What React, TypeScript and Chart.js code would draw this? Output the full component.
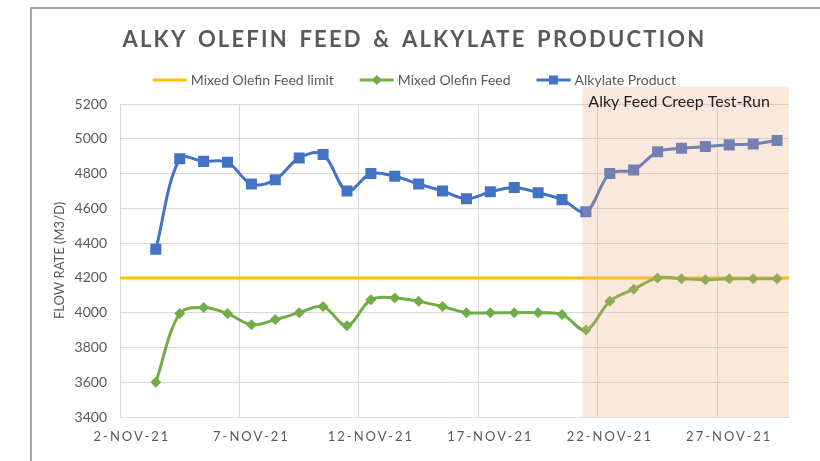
import React, { useEffect, useRef } from 'react';
import { Chart, registerables } from 'chart.js';

Chart.register(...registerables);

// ---------- data ----------
const categories = [
  '2-NOV-21', '3-NOV-21', '4-NOV-21', '5-NOV-21', '6-NOV-21', '7-NOV-21', '8-NOV-21',
  '9-NOV-21', '10-NOV-21', '11-NOV-21', '12-NOV-21', '13-NOV-21', '14-NOV-21', '15-NOV-21',
  '16-NOV-21', '17-NOV-21', '18-NOV-21', '19-NOV-21', '20-NOV-21', '21-NOV-21', '22-NOV-21',
  '23-NOV-21', '24-NOV-21', '25-NOV-21', '26-NOV-21', '27-NOV-21', '28-NOV-21', '29-NOV-21',
];
const mixedOlefinFeedLimit = 4200;
const mixedOlefinFeed = [
  null, 3600, 3995, 4030, 3995, 3930, 3960, 4000, 4035, 3925, 4075, 4085, 4065, 4035,
  4000, 4000, 4000, 4000, 3990, 3900, 4065, 4135, 4200, 4195, 4190, 4195, 4195, 4195,
];
const alkylateProduct = [
  null, 4365, 4885, 4870, 4865, 4740, 4765, 4890, 4910, 4700, 4800, 4785, 4740, 4700,
  4655, 4695, 4720, 4690, 4650, 4580, 4800, 4820, 4925, 4945, 4955, 4965, 4970, 4990,
];
const seriesNames = ['Mixed Olefin Feed limit', 'Mixed Olefin Feed', 'Alkylate Product'];
const yMin = 3400;
const yMax = 5200;
const yStep = 200;
const labelEvery = 5;
const chartTitle = 'ALKY OLEFIN FEED & ALKYLATE PRODUCTION';
const yAxisTitle = 'FLOW RATE (M3/D)';
const testRunLabel = 'Alky Feed Creep Test-Run';
const testRunStart = '21-NOV-21';
const testRunTop = 5300;

// ---------- styles ----------
const FONT = 'Lato, "Open Sans", "Liberation Sans", sans-serif';
const TEXT = '#595959';
const GRID = '#d9d9d9';
const YELLOW = '#FFC000';
const GREEN = '#70AD47';
const BLUE = '#4472C4';

function makeIcon(color: string, marker: 'none' | 'diamond' | 'square'): HTMLCanvasElement {
  const c = document.createElement('canvas');
  c.width = 38;
  c.height = 14;
  const g = c.getContext('2d')!;
  const x0 = 3.5;
  const x1 = 37.5;
  const cy = 7;
  g.strokeStyle = color;
  g.lineWidth = 3;
  g.beginPath();
  g.moveTo(x0, cy);
  g.lineTo(x1, cy);
  g.stroke();
  g.fillStyle = color;
  const cx = (x0 + x1) / 2;
  if (marker === 'diamond') {
    g.beginPath();
    g.moveTo(cx, cy - 5);
    g.lineTo(cx + 5, cy);
    g.lineTo(cx, cy + 5);
    g.lineTo(cx - 5, cy);
    g.closePath();
    g.fill();
  } else if (marker === 'square') {
    g.fillRect(cx - 4.5, cy - 4.5, 9, 9);
  }
  return c;
}

const letterSpacingPlugin = {
  id: 'letterSpacingWrap',
  beforeDraw(chart: any) {
    const wrap = (obj: any, key: string, spacing: string, wordSpacing = '0px') => {
      if (!obj || obj['__wrapped_' + key]) return;
      const orig = obj[key].bind(obj);
      obj[key] = (...args: any[]) => {
        const ctx = chart.ctx as any;
        const prev = ctx.letterSpacing;
        const prevW = ctx.wordSpacing;
        ctx.letterSpacing = spacing;
        ctx.wordSpacing = wordSpacing;
        orig(...args);
        ctx.letterSpacing = prev || '0px';
        ctx.wordSpacing = prevW || '0px';
      };
      obj['__wrapped_' + key] = true;
    };
    wrap(chart.titleBlock, 'draw', '2.2px', '3px');
    wrap(chart.scales.x, 'drawLabels', '2px');
  },
};

const testRunPlugin = {
  id: 'testRunShade',
  afterDatasetsDraw(chart: any) {
    const { ctx, chartArea, scales } = chart;
    const xs = scales.x;
    const ys = scales.y;
    const left = xs.getPixelForValue(categories.indexOf(testRunStart) - 0.15);
    const right = chartArea.right;
    const top = ys.getPixelForValue(testRunTop);
    const bottom = ys.getPixelForValue(yMin);
    ctx.save();
    ctx.fillStyle = 'rgba(240, 170, 125, 0.27)';
    ctx.fillRect(left, top, right - left, bottom - top);
    ctx.fillStyle = '#1e1e1e';
    ctx.font = `16px ${FONT}`;
    ctx.textAlign = 'left';
    ctx.textBaseline = 'middle';
    ctx.fillText(testRunLabel, left + 6, top + 15);
    ctx.restore();
  },
};

export default function App() {
  const ref = useRef<HTMLCanvasElement>(null);

  useEffect(() => {
    if (!ref.current) return;
    const icons = [makeIcon(YELLOW, 'none'), makeIcon(GREEN, 'diamond'), makeIcon(BLUE, 'square')];
    const chart = new Chart(ref.current, {
      type: 'line',
      data: {
        labels: categories,
        datasets: [
          {
            label: seriesNames[0],
            data: [
              { x: 0, y: mixedOlefinFeedLimit },
              { x: 1, y: mixedOlefinFeedLimit },
            ] as any,
            xAxisID: 'xLimit',
            borderColor: YELLOW,
            backgroundColor: YELLOW,
            borderWidth: 3,
            pointRadius: 0,
            order: 3,
          },
          {
            label: seriesNames[1],
            data: mixedOlefinFeed as any,
            borderColor: GREEN,
            backgroundColor: GREEN,
            borderWidth: 3,
            tension: 0.35,
            pointStyle: 'rectRot',
            pointRadius: 5.5,
            pointBorderWidth: 0,
            order: 2,
          },
          {
            label: seriesNames[2],
            data: alkylateProduct as any,
            borderColor: BLUE,
            backgroundColor: BLUE,
            borderWidth: 3,
            tension: 0.35,
            pointStyle: 'rect',
            pointRadius: 7.8,
            pointBorderWidth: 0,
            order: 1,
          },
        ],
      },
      options: {
        animation: false,
        responsive: false,
        events: [],
        layout: { padding: { top: 0, left: 40, right: 31, bottom: 0 } },
        plugins: {
          title: {
            display: true,
            text: chartTitle,
            color: TEXT,
            font: { family: FONT, size: 22, weight: 'bold', lineHeight: 0.5 },
            padding: { top: 34.5, bottom: 1.5 },
          },
          subtitle: {
            display: true,
            text: '',
            weight: 500,
            padding: 0,
            font: { size: 7, lineHeight: 1 },
          } as any,
          legend: {
            display: true,
            position: 'top',
            labels: {
              color: TEXT,
              font: { family: FONT, size: 14 },
              padding: 26,
              usePointStyle: true,
              pointStyleWidth: 31,
              generateLabels: (c: any) =>
                c.data.datasets.map((ds: any, i: number) => ({
                  text: ds.label,
                  fillStyle: ds.borderColor,
                  strokeStyle: ds.borderColor,
                  lineWidth: 0,
                  pointStyle: icons[i],
                  hidden: false,
                  datasetIndex: i,
                  fontColor: TEXT,
                })),
            },
          },
          tooltip: { enabled: false },
        },
        scales: {
          x: {
            type: 'category',
            offset: true,
            grid: {
              offset: true,
              drawTicks: false,
              lineWidth: 1,
              color: (ctx: any) => (ctx.index % labelEvery === 0 ? GRID : 'rgba(0,0,0,0)'),
            },
            border: { display: false },
            ticks: {
              autoSkip: false,
              maxRotation: 0,
              minRotation: 0,
              padding: 12,
              color: TEXT,
              font: { family: FONT, size: 13 },
              callback: (_v: any, i: number) => (i % labelEvery === 0 ? categories[i] : ''),
            },
            afterFit: (s: any) => {
              s.height = 44;
            },
          },
          xLimit: {
            type: 'linear',
            display: false,
            min: 0,
            max: 1,
          },
          y: {
            min: yMin,
            max: yMax,
            ticks: {
              stepSize: yStep,
              padding: 13,
              color: TEXT,
              font: { family: FONT, size: 14 },
              callback: (v: any) => String(v),
            },
            grid: { color: GRID, drawTicks: false, lineWidth: 1 },
            border: { display: false },
            title: {
              display: true,
              text: yAxisTitle,
              color: TEXT,
              font: { family: FONT, size: 13 },
              padding: { top: 12, bottom: 0 },
            },
            afterFit: (s: any) => {
              s.width = 80;
            },
          },
        },
      } as any,
      plugins: [letterSpacingPlugin, testRunPlugin],
    });
    return () => chart.destroy();
  }, []);

  return (
    <div style={{ position: 'absolute', left: 0, top: 0, width: 820, height: 461, background: '#fff', overflow: 'hidden' }}>
      <canvas ref={ref} width={820} height={461} style={{ display: 'block' }} />
      <div
        style={{
          position: 'absolute',
          left: 30,
          top: 7,
          width: 820,
          height: 470,
          borderLeft: '2px solid #a6a6a6',
          borderTop: '2px solid #a6a6a6',
          pointerEvents: 'none',
        }}
      />
    </div>
  );
}
